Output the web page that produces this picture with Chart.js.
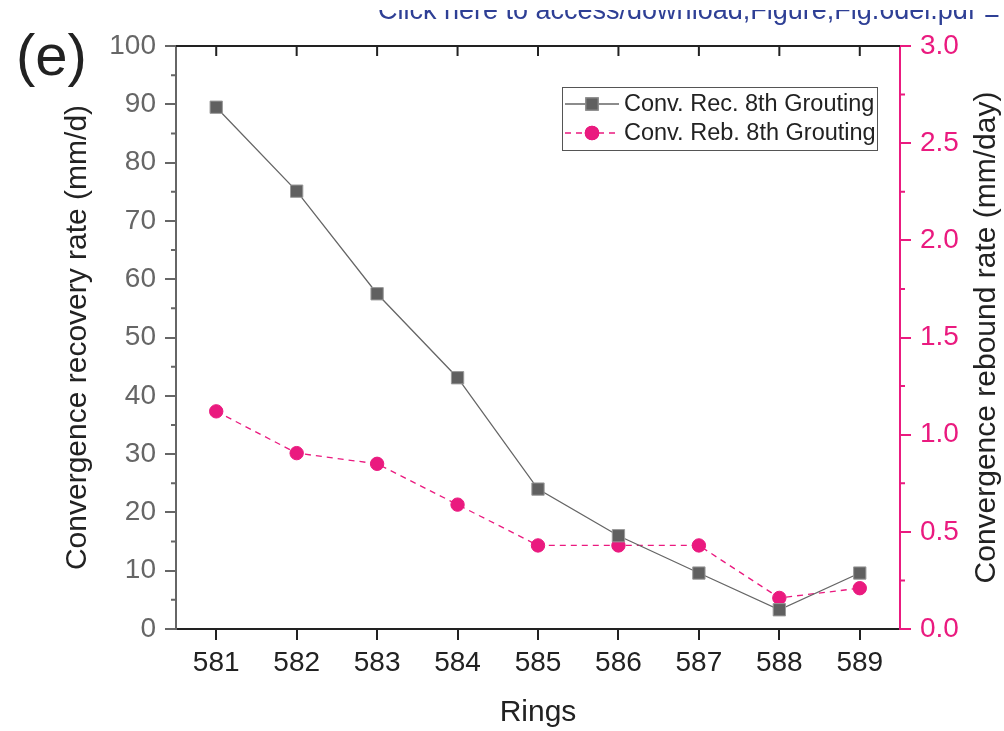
<!DOCTYPE html>
<html>
<head>
<meta charset="utf-8">
<script src="https://cdn.jsdelivr.net/npm/chart.js@4"></script>
<style>
  html, body { margin: 0; padding: 0; background: #fff; }
  #wrap { width: 1004px; height: 731px; position: relative; }
</style>
</head>
<body>
<div id="wrap"><canvas id="chart" width="1004" height="731"></canvas></div>
<script>
// ===== Dados =====
const rings = ['581', '582', '583', '584', '585', '586', '587', '588', '589'];
const recoveryRate = [89.5, 75.1, 57.5, 43.1, 24.0, 16.0, 9.6, 3.3, 9.6];
const reboundRate = [1.12, 0.905, 0.85, 0.64, 0.43, 0.43, 0.43, 0.16, 0.21];
const leftRange = [0, 100];
const rightRange = [0, 3.0];
const seriesNames = ['Conv. Rec. 8th Grouting', 'Conv. Reb. 8th Grouting'];

const FONT = "'Liberation Sans', Arial, sans-serif";
const GRAY = '#666666';
const PINK = '#ea1a7f';
const DARK = '#222222';

// ===== Plugin: títulos, ticks menores, borda superior, legenda =====
const decor = {
  id: 'decor',
  afterDraw(chart) {
    const ctx = chart.ctx;
    const area = chart.chartArea;
    const x = chart.scales.x, y = chart.scales.y, y1 = chart.scales.y1;
    ctx.save();

    // borda superior com ticks para dentro
    ctx.strokeStyle = DARK;
    ctx.lineWidth = 2;
    ctx.beginPath();
    ctx.moveTo(area.left, area.top);
    ctx.lineTo(area.right, area.top);
    rings.forEach((r, i) => {
      const px = x.getPixelForValue(i);
      ctx.moveTo(px, area.top);
      ctx.lineTo(px, area.top + 10);
    });
    ctx.stroke();

    // ticks menores
    ctx.lineWidth = 2;
    ctx.strokeStyle = GRAY;
    ctx.beginPath();
    for (let v = 5; v < leftRange[1]; v += 10) {
      const py = y.getPixelForValue(v);
      ctx.moveTo(area.left - 5, py);
      ctx.lineTo(area.left, py);
    }
    ctx.stroke();
    ctx.strokeStyle = PINK;
    ctx.beginPath();
    for (let v = 0.25; v < rightRange[1]; v += 0.5) {
      const py = y1.getPixelForValue(v);
      ctx.moveTo(area.right, py);
      ctx.lineTo(area.right + 5, py);
    }
    ctx.stroke();

    // títulos dos eixos
    ctx.fillStyle = DARK;
    ctx.font = '30px ' + FONT;
    ctx.textAlign = 'center';
    ctx.textBaseline = 'middle';
    ctx.fillText('Rings', (area.left + area.right) / 2, 713);

    const midY = (area.top + area.bottom) / 2;
    ctx.save();
    ctx.translate(78, midY);
    ctx.rotate(-Math.PI / 2);
    ctx.fillText('Convergence recovery rate (mm/d)', 0, 0);
    ctx.restore();

    ctx.save();
    ctx.translate(987, midY);
    ctx.rotate(-Math.PI / 2);
    ctx.fillText('Convergence rebound rate (mm/day)', 0, 0);
    ctx.restore();

    // rótulo do painel
    ctx.font = '58px ' + FONT;
    ctx.textAlign = 'left';
    ctx.textBaseline = 'alphabetic';
    ctx.fillText('(e)', 16, 75);

    // cabeçalho cortado (só a metade de baixo aparece)
    ctx.save();
    ctx.beginPath();
    ctx.rect(0, 10, chart.width, 20);
    ctx.clip();
    ctx.fillStyle = '#2e3f95';
    ctx.font = '27px ' + FONT;
    ctx.fillText('Click here to access/download;Figure;Fig.6del.pdf', 378, 19);
    ctx.fillText('=', 984, 22);
    ctx.restore();

    // legenda
    const lx = 562, ly = 87, lw = 315, lh = 63;
    ctx.fillStyle = '#fff';
    ctx.fillRect(lx, ly, lw, lh);
    ctx.strokeStyle = '#555';
    ctx.lineWidth = 1;
    ctx.strokeRect(lx + 0.5, ly + 0.5, lw, lh);
    chart.data.datasets.forEach((ds, i) => {
      const ry = ly + 17 + i * 29;
      ctx.strokeStyle = ds.borderColor;
      ctx.lineWidth = ds.borderWidth;
      ctx.setLineDash(ds.borderDash || []);
      ctx.beginPath();
      ctx.moveTo(lx + 3, ry);
      ctx.lineTo(lx + 57, ry);
      ctx.stroke();
      ctx.setLineDash([]);
      Chart.helpers.drawPoint(ctx, {
        pointStyle: ds.pointStyle, radius: ds.pointRadius, borderWidth: ds.pointBorderWidth
      }, lx + 30, ry);
      ctx.fillStyle = ds.pointBackgroundColor;
      ctx.strokeStyle = ds.pointBorderColor;
      ctx.lineWidth = ds.pointBorderWidth;
      ctx.fill();
      ctx.stroke();
      ctx.fillStyle = DARK;
      ctx.font = '23.5px ' + FONT;
      ctx.textBaseline = 'middle';
      ctx.fillText(ds.label, lx + 62, ry + 1);
    });

    ctx.restore();
  }
};

new Chart(document.getElementById('chart'), {
  type: 'line',
  data: {
    labels: rings,
    datasets: [
      {
        label: seriesNames[0],
        data: recoveryRate,
        yAxisID: 'y',
        borderColor: '#666666',
        borderWidth: 1.3,
        pointStyle: 'rect',
        pointRadius: 8.7,
        pointBackgroundColor: '#606060',
        pointBorderColor: '#9a9a9a',
        pointBorderWidth: 1,
        tension: 0
      },
      {
        label: seriesNames[1],
        data: reboundRate,
        yAxisID: 'y1',
        borderColor: PINK,
        borderWidth: 1.3,
        borderDash: [6, 5],
        pointStyle: 'circle',
        pointRadius: 6.7,
        pointBackgroundColor: PINK,
        pointBorderColor: PINK,
        pointBorderWidth: 1,
        tension: 0
      }
    ]
  },
  options: {
    responsive: false,
    animation: false,
    layout: { padding: { top: 46, left: 0, right: 0, bottom: 0 } },
    plugins: { legend: { display: false }, tooltip: { enabled: false } },
    scales: {
      x: {
        type: 'category',
        offset: true,
        grid: { display: true, drawOnChartArea: false, tickLength: 11, color: DARK, lineWidth: 2, offset: false },
        border: { color: DARK, width: 2 },
        ticks: { color: DARK, font: { family: FONT, size: 28 }, padding: 6, maxRotation: 0 },
        afterFit(s) { s.height = 102; }
      },
      y: {
        position: 'left',
        min: leftRange[0], max: leftRange[1],
        grid: { drawOnChartArea: false, tickLength: 11, color: GRAY, lineWidth: 2 },
        border: { color: GRAY, width: 2 },
        ticks: { stepSize: 10, color: GRAY, font: { family: FONT, size: 28 }, padding: 9 },
        afterFit(s) { s.width = 176; }
      },
      y1: {
        position: 'right',
        min: rightRange[0], max: rightRange[1],
        grid: { drawOnChartArea: false, tickLength: 11, color: PINK, lineWidth: 2 },
        border: { color: PINK, width: 2 },
        ticks: { stepSize: 0.5, color: PINK, font: { family: FONT, size: 28 }, padding: 9,
                 callback: v => Number(v).toFixed(1) },
        afterFit(s) { s.width = 104; }
      }
    }
  },
  plugins: [decor]
});
</script>
</body>
</html>
